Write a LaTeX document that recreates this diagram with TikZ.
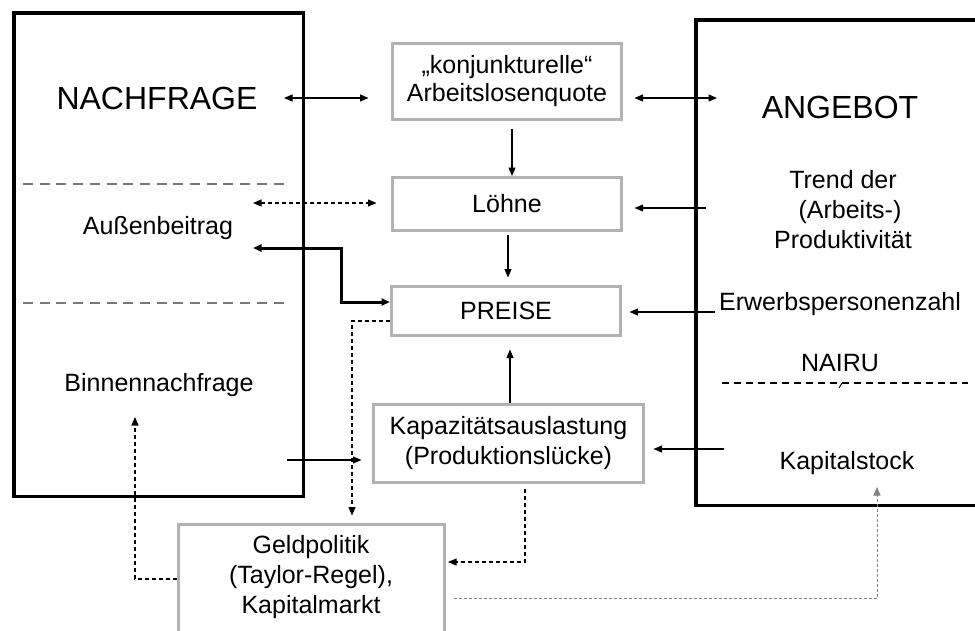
\documentclass[tikz,border=0pt]{standalone}
\usepackage{fontspec}
\setmainfont{Liberation Sans}
\usetikzlibrary{arrows.meta}
\definecolor{boxgray}{RGB}{178,178,178}
\definecolor{sepgray}{RGB}{120,120,120}
\definecolor{dotgray}{RGB}{130,130,130}
\begin{document}
\begin{tikzpicture}[x=1pt,y=-1pt,
  tip/.tip={Triangle[length=8.5pt,width=7pt]},
  arr/.style={-tip},
  darr/.style={tip-tip},
  conn/.style={line width=1.2pt,black},
  thickconn/.style={line width=3pt,black},
  dconn/.style={line width=1.1pt,black,dash pattern=on 4pt off 3pt},
  gdconn/.style={line width=1pt,dotgray,dash pattern=on 3pt off 2pt},
  sep/.style={line width=1.5pt,sepgray,dash pattern=on 10pt off 6.7pt},
  bigbox/.style={draw=black,line width=3.5pt,inner sep=0pt,rectangle},
  gbox/.style={draw=boxgray,line width=3pt,inner sep=0pt,rectangle,font=\fontsize{25}{28}\selectfont},
  txt/.style={inner sep=0pt,font=\fontsize{25}{30}\selectfont},
  big/.style={inner sep=0pt,font=\fontsize{32}{38}\selectfont}]
\useasboundingbox (0,0) rectangle (975,630);
\clip (0,0) rectangle (975,630);
\fill[white] (0,0) rectangle (975,630);

% big boxes
\node[bigbox,minimum width=289.5pt,minimum height=483.5pt] (nach) at (158.5,254.5) {};
\node[bigbox,minimum width=310pt,minimum height=485.5pt] (ang) at (850.75,262.5) {};

% texts in big boxes
\node[big] (nachtext) at (157,98) {NACHFRAGE};
\node[big] (angtext) at (840,107) {ANGEBOT};
\node[txt] (aussen) at (158,228) {Außenbeitrag};
\node[txt] (binnen) at (159,385) {Binnennachfrage};
\node[txt,align=center] (trend) at (843,210) {Trend der\\\hspace*{14pt}(Arbeits-)\\Produktivität};
\node[txt] (erwerb) at (840,304) {Erwerbspersonenzahl};
\node[txt] (nairu) at (840,363) {NAIRU};
\node[txt] (kapst) at (847,463) {Kapitalstock};

% separators
\draw[sep] (23,184) -- (290,184);
\draw[sep] (23,303) -- (290,303);
\draw[line width=1.2pt,dash pattern=on 7pt off 5pt] (722,383) -- (968,383);
\draw[line width=0.9pt] (839,388) -- (842,383);

% grey boxes
\node[gbox,minimum width=229pt,minimum height=76pt,align=center] (konj) at (507,81.5) {„konjunkturelle“\\Arbeitslosenquote};
\node[gbox,minimum width=229pt,minimum height=53pt] (lohne) at (507,204) {Löhne};
\node[gbox,minimum width=229pt,minimum height=49pt] (preise) at (506,311) {PREISE};
\node[gbox,minimum width=270pt,minimum height=78pt,align=center,font=\fontsize{25}{30}\selectfont] (kap) at (508.5,443.5) {Kapazitätsauslastung\\(Produktionslücke)};
\node[gbox,minimum width=266pt,minimum height=130pt] (geld) at (311.5,589.5) {};
\node[txt,align=center] (geldtext) at (311,577) {Geldpolitik\\(Taylor-Regel),\\Kapitalmarkt};

% connectors
\coordinate (c1) at (284,98);
\draw[conn,darr,shorten >=22.5pt] (c1) -- (c1 -| konj.west);
\coordinate (c2) at (717,98);
\draw[conn,darr,shorten <=11.5pt] (c2 -| konj.east) -- (c2);
\draw[conn,arr,shorten <=7.5pt] ([xshift=5pt]konj.south) -- ([xshift=5pt]konj.south |- lohne.north);
\coordinate (c4) at (253,203);
\draw[dconn,darr,shorten >=14.5pt] (c4) -- (c4 -| lohne.west);
\coordinate (c5) at (253,248);
\coordinate (c5b) at (341,302);
\draw[thickconn,darr] (c5) -| (c5b) -- (c5b -| preise.west);
\draw[conn,arr,shorten <=2.5pt,shorten >=7.5pt] ([xshift=1pt]lohne.south) -- ([xshift=1pt]lohne.south |- preise.north);
\coordinate (c7) at (706,208);
\draw[conn,arr,shorten >=11.5pt] (c7) -- (c7 -| lohne.east);
\coordinate (c8) at (715,312);
\draw[conn,arr,shorten >=7.5pt] (c8) -- (c8 -| preise.east);
\draw[conn,arr,shorten >=12.5pt] ([xshift=1.5pt]kap.north) -- ([xshift=1.5pt]kap.north |- preise.south);
\coordinate (c10) at (287,460);
\draw[conn,arr,shorten >=10.5pt] (c10) -- (c10 -| kap.west);
\coordinate (c11) at (724,449);
\draw[conn,arr,shorten >=8.5pt] (c11) -- (c11 -| kap.east);
\coordinate (c12) at (352,321);
\draw[dconn,arr,shorten >=7.5pt] (c12 -| preise.west) -- (c12) -- (c12 |- geld.north);
\coordinate (c13) at (525,562);
\draw[dconn,arr,shorten <=5pt,shorten >=2pt] (c13 |- kap.south) -- (c13) -- (c13 -| geld.east);
\coordinate (c14) at (135,579);
\coordinate (c14b) at (135,417);
\draw[dconn,arr] (c14 -| geld.west) -- (c14) -- (c14b);
\coordinate (c15) at (877,598);
\coordinate (c15b) at (877,487);
\draw[gdconn,arr,shorten <=7.5pt] (c15 -| geld.east) -- (c15) -- (c15b);
\end{tikzpicture}
\end{document}
